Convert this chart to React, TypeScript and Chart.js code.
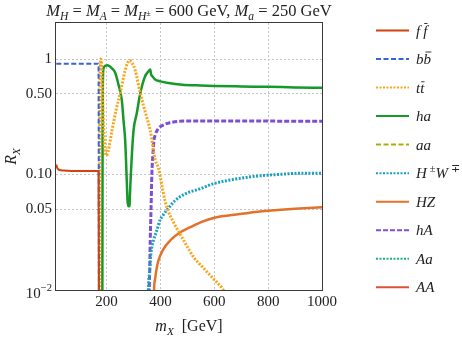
import React, { useEffect, useRef } from 'react';
import { Chart, registerables } from 'chart.js';
Chart.register(...registerables);

// ---------- data (m_X in GeV, R_X) ----------
const ffbarM = [13, 16, 20, 30, 50, 80, 120, 150, 170, 171.5];
const ffbarR = [0.122, 0.115, 0.111, 0.109, 0.108, 0.107, 0.107, 0.107, 0.107, 0.004];

const bbbarM = [13, 50, 100, 150, 170, 171.5];
const bbbarR = [0.91, 0.91, 0.91, 0.91, 0.91, 0.004];

const ttbarM = [173.5, 174.5, 176, 178.5, 181, 184, 188, 193, 199, 206, 220, 235, 251, 269, 285, 295, 306, 325, 343, 362, 380, 392, 417, 428, 450, 472, 502, 525, 554, 590, 631, 645];
const ttbarR = [0.004, 0.3, 0.8, 1.0, 0.93, 0.6, 0.3, 0.18, 0.146, 0.16, 0.24, 0.36, 0.51, 0.8, 0.97, 0.92, 0.8, 0.506, 0.35, 0.241, 0.135, 0.114, 0.059, 0.0486, 0.038, 0.0307, 0.0232, 0.019, 0.016, 0.013, 0.0102, 0.009];

const haM = [184, 185, 186, 188, 194, 203, 210, 220, 232, 244, 257, 263, 269, 274, 278, 282, 285, 287, 290, 294, 300, 312, 325, 343, 355, 362, 365, 372, 380, 400, 430, 480, 550, 600, 700, 800, 900, 1000];
const haR = [0.004, 0.2, 0.6, 0.82, 0.87, 0.885, 0.87, 0.83, 0.76, 0.6, 0.43, 0.29, 0.197, 0.1, 0.058, 0.053, 0.054, 0.07, 0.101, 0.151, 0.241, 0.339, 0.506, 0.71, 0.78, 0.81, 0.74, 0.70, 0.665, 0.64, 0.62, 0.6, 0.59, 0.585, 0.579, 0.574, 0.568, 0.563];

const aaM: number[] = [];
const aaR: number[] = [];

const hwM = [354, 355, 358, 361.5, 366, 374, 385, 398, 410, 429, 454, 491, 546, 596, 670, 756, 850, 916, 1000];
const hwR = [0.004, 0.0098, 0.013, 0.017, 0.022, 0.027, 0.032, 0.04, 0.0445, 0.051, 0.0594, 0.0679, 0.075, 0.083, 0.0906, 0.0967, 0.1005, 0.1025, 0.1026];

const hzM = [375, 376, 379, 384, 392, 411, 435, 472, 509, 553, 600, 694, 762, 800, 900, 1000];
const hzR = [0.004, 0.0095, 0.012, 0.0145, 0.0179, 0.0226, 0.0267, 0.0315, 0.0348, 0.0389, 0.0423, 0.0455, 0.0477, 0.0486, 0.0505, 0.052];

const hAM = [358, 358.5, 360, 362, 365, 368, 372, 376, 380, 392, 410, 435, 497, 600, 800, 1000];
const hAR = [0.004, 0.0095, 0.014, 0.027, 0.05, 0.1, 0.15, 0.197, 0.218, 0.25, 0.268, 0.281, 0.291, 0.291, 0.29, 0.289];

const AaM: number[] = [];
const AaR: number[] = [];
const AAM: number[] = [];
const AAR: number[] = [];

const xTicks = [200, 400, 600, 800, 1000];
const xTickLabels = ['200', '400', '600', '800', '1000'];
const yTicks = [0.01, 0.05, 0.1, 0.5, 1];
const yTickLabels = ['', '0.05', '0.10', '0.50', '1'];

type Seg = { t: string; it?: boolean; s?: number; dy?: number; bar?: number };

const legendLabels: Seg[][] = [
  [{ t: 'f', it: true }, { t: '\u2009' }, { t: 'f', it: true, bar: 0.8 }],
  [{ t: 'b', it: true }, { t: 'b', it: true, bar: 0.8 }],
  [{ t: 't', it: true }, { t: 't', it: true, bar: 0.72 }],
  [{ t: 'ha', it: true }],
  [{ t: 'aa', it: true }],
  [{ t: 'H', it: true }, { t: '\u2009' }, { t: '\u00b1', s: 0.7, dy: -0.38 }, { t: 'W', it: true }, { t: '\u2009' }, { t: '\u2213', s: 0.7, dy: -0.38 }],
  [{ t: 'HZ', it: true }],
  [{ t: 'hA', it: true }],
  [{ t: 'Aa', it: true }],
  [{ t: 'AA', it: true }],
];

const FONT = '"Liberation Serif", "Times New Roman", serif';

function segFont(sg: Seg, size: number) {
  return `${sg.it ? 'italic ' : ''}${size * (sg.s ?? 1)}px ${FONT}`;
}
function measureRich(ctx: CanvasRenderingContext2D, segs: Seg[], size: number) {
  let w = 0;
  for (const sg of segs) { ctx.font = segFont(sg, size); w += ctx.measureText(sg.t).width; }
  return w;
}
function drawRich(ctx: CanvasRenderingContext2D, segs: Seg[], x: number, y: number, size: number, color = '#222') {
  let cx = x;
  ctx.fillStyle = color;
  ctx.strokeStyle = color;
  ctx.textBaseline = 'alphabetic';
  ctx.textAlign = 'left';
  for (const sg of segs) {
    ctx.font = segFont(sg, size);
    const w = ctx.measureText(sg.t).width;
    const yy = y + (sg.dy ?? 0) * size;
    ctx.fillText(sg.t, cx, yy);
    if (sg.bar) {
      const by = yy - sg.bar * size;
      ctx.lineWidth = 0.9;
      ctx.beginPath();
      ctx.moveTo(cx + w * 0.25, by);
      ctx.lineTo(cx + w * 1.05, by);
      ctx.stroke();
    }
    cx += w;
  }
}

const titleSegs: Seg[] = [
  { t: 'M', it: true }, { t: 'H', it: true, s: 0.7, dy: 0.22 }, { t: ' = ' },
  { t: 'M', it: true }, { t: 'A', it: true, s: 0.7, dy: 0.22 }, { t: ' = ' },
  { t: 'M', it: true }, { t: 'H', it: true, s: 0.7, dy: 0.22 }, { t: '\u00b1', s: 0.5, dy: -0.02 },
  { t: ' = 600 GeV, ' },
  { t: 'M', it: true }, { t: 'a', it: true, s: 0.7, dy: 0.22 }, { t: ' = 250 GeV' },
];
const xTitleSegs: Seg[] = [{ t: 'm', it: true }, { t: 'X', it: true, s: 0.7, dy: 0.22 }, { t: '  [GeV]' }];
const yTitleSegs: Seg[] = [{ t: 'R', it: true }, { t: 'X', it: true, s: 0.7, dy: 0.22 }];

function pts(m: number[], r: number[]) {
  return m.map((v, i) => ({ x: v, y: r[i] }));
}

const overlay = {
  id: 'overlay',
  afterDraw(chart: any) {
    const ctx: CanvasRenderingContext2D = chart.ctx;
    const a = chart.chartArea;
    ctx.save();
    // frame
    ctx.strokeStyle = '#3a3a3a';
    ctx.lineWidth = 1;
    ctx.setLineDash([]);
    ctx.strokeRect(a.left - 0.5, a.top - 0.5, a.right - a.left + 1, a.bottom - a.top + 1);

    // 10^-2 label
    const ys = chart.scales.y;
    const y01 = ys.getPixelForValue(0.01);
    const lab: Seg[] = [{ t: '10' }, { t: '\u22122', s: 0.7, dy: -0.45 }];
    const lw = measureRich(ctx, lab, 15);
    drawRich(ctx, lab, a.left - 4 - lw, y01 + 8, 15);

    // title
    const tSize = 16.5;
    const tw = measureRich(ctx, titleSegs, tSize);
    drawRich(ctx, titleSegs, (a.left + a.right) / 2 - tw / 2, 16, tSize);

    // x title
    const xw = measureRich(ctx, xTitleSegs, 16);
    drawRich(ctx, xTitleSegs, (a.left + a.right) / 2 - xw / 2, 331, 16);

    // y title
    ctx.save();
    ctx.translate(16, (a.top + a.bottom) / 2 + 0);
    ctx.rotate(-Math.PI / 2);
    const yw = measureRich(ctx, yTitleSegs, 16);
    drawRich(ctx, yTitleSegs, -yw / 2, 0, 16);
    ctx.restore();

    // legend
    chart.data.datasets.forEach((ds: any, i: number) => {
      const cy = 30.5 + i * 28.53;
      ctx.save();
      ctx.strokeStyle = ds.borderColor;
      ctx.lineWidth = 2;
      ctx.setLineDash(ds.borderDash || []);
      ctx.beginPath();
      ctx.moveTo(376, cy);
      ctx.lineTo(409, cy);
      ctx.stroke();
      ctx.restore();
      drawRich(ctx, legendLabels[i], 416, cy + 5, 15);
    });
    ctx.restore();
  },
};

export default function App() {
  const ref = useRef<HTMLCanvasElement>(null);
  useEffect(() => {
    if (!ref.current) return;
    const mk = (label: string, m: number[], r: number[], color: string, width: number, dash: number[]) => ({
      label,
      data: pts(m, r),
      borderColor: color,
      backgroundColor: color,
      borderWidth: width,
      borderDash: dash,
      pointRadius: 0,
      fill: false,
      tension: 0,
      cubicInterpolationMode: 'monotone' as const,
      clip: 0,
    });
    const datasets = [
      mk('ffbar', ffbarM, ffbarR, '#d0420f', 2, []),
      mk('bbbar', bbbarM, bbbarR, '#3a62d6', 2, [5, 2.5]),
      mk('ttbar', ttbarM, ttbarR, '#f9a51a', 3, [2, 1.5]),
      mk('ha', haM, haR, '#16982a', 2.5, []),
      mk('aa', aaM, aaR, '#acab0c', 2, [5, 2.5]),
      mk('HW', hwM, hwR, '#1aa0c2', 3, [2, 1.5]),
      mk('HZ', hzM, hzR, '#e2722a', 2.5, []),
      mk('hA', hAM, hAR, '#7d4fd2', 3, [5, 2]),
      mk('Aa', AaM, AaR, '#22b083', 2, [2, 1.5]),
      mk('AA', AAM, AAR, '#dc5236', 2, []),
    ];
    const tickFont = { family: FONT, size: 15 };
    const chart = new Chart(ref.current, {
      type: 'line',
      data: { datasets } as any,
      options: {
        animation: false,
        responsive: false,
        devicePixelRatio: 1,
        layout: { padding: { left: 0, right: 140, top: 23, bottom: 0 } },
        plugins: { legend: { display: false }, tooltip: { enabled: false }, title: { display: false } },
        scales: {
          x: {
            type: 'linear',
            min: 12,
            max: 1000,
            afterBuildTicks: (s: any) => { s.ticks = xTicks.map((v) => ({ value: v })); },
            afterFit: (s: any) => { s.height = 49; },
            grid: {
              drawTicks: false,
              lineWidth: 1,
              color: (c: any) => (c.tick && c.tick.value === 1000 ? 'rgba(0,0,0,0)' : '#c4c4c4'),
            },
            border: { display: false, dash: [2, 2] },
            ticks: {
              font: tickFont,
              color: '#222',
              padding: 3,
              maxRotation: 0,
              autoSkip: false,
              callback: (v: any) => {
                const i = xTicks.indexOf(Number(v));
                return i >= 0 ? xTickLabels[i] : '';
              },
            },
          },
          y: {
            type: 'logarithmic',
            min: 0.01,
            max: 2.05,
            afterBuildTicks: (s: any) => { s.ticks = yTicks.map((v) => ({ value: v })); },
            afterFit: (s: any) => { s.width = 56; },
            grid: {
              drawTicks: false,
              lineWidth: 1,
              color: (c: any) => (c.tick && c.tick.value === 0.01 ? 'rgba(0,0,0,0)' : '#c4c4c4'),
            },
            border: { display: false, dash: [2, 2] },
            ticks: {
              font: tickFont,
              color: '#222',
              padding: 4,
              autoSkip: false,
              callback: (v: any) => {
                const i = yTicks.findIndex((t) => Math.abs(t - Number(v)) < 1e-9);
                return i >= 0 ? yTickLabels[i] : '';
              },
            },
          },
        },
      } as any,
      plugins: [overlay],
    });
    return () => chart.destroy();
  }, []);
  return (
    <div style={{ position: 'absolute', left: 0, top: 0, width: 462, height: 339, background: '#fff' }}>
      <canvas ref={ref} width={462} height={339} style={{ display: 'block' }} />
    </div>
  );
}
